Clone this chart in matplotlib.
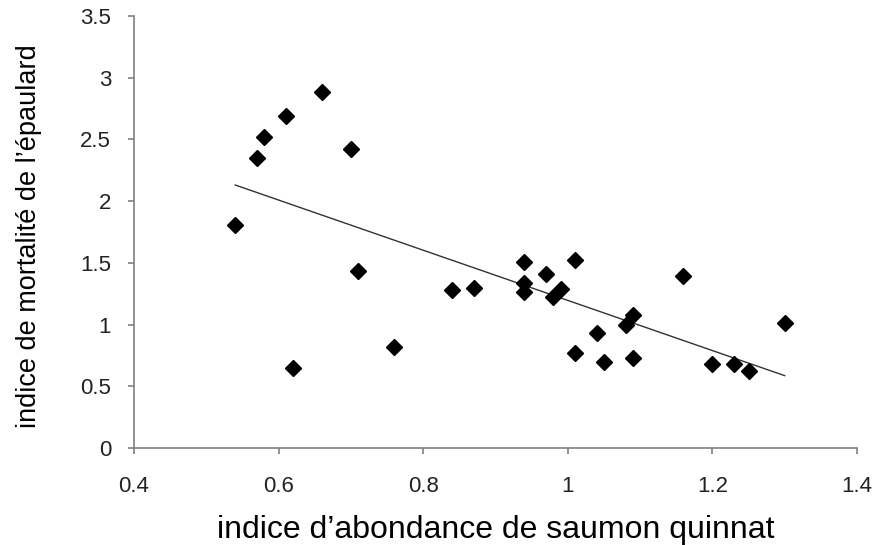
import numpy as np
import matplotlib
matplotlib.use("Agg")
import matplotlib.pyplot as plt

plt.rcParams['font.family'] = ['Liberation Sans', 'DejaVu Sans']

## indice d'abondance de saumon quinnat
abondance = [0.54, 0.57, 0.58, 0.61, 0.66, 0.70, 0.71, 0.62, 0.76, 0.84,
             0.87, 0.94, 0.94, 0.94, 0.97, 0.98, 0.99, 1.01, 1.01, 1.04,
             1.05, 1.08, 1.09, 1.09, 1.16, 1.20, 1.23, 1.25, 1.30]
## indice de mortalite de l'epaulard
mortalite = [1.81, 2.35, 2.52, 2.69, 2.88, 2.42, 1.43, 0.65, 0.82, 1.28,
             1.30, 1.51, 1.34, 1.26, 1.41, 1.22, 1.29, 1.52, 0.77, 0.93,
             0.70, 1.00, 1.08, 0.73, 1.39, 0.68, 0.68, 0.62, 1.01]

xticks = [0.4, 0.6, 0.8, 1.0, 1.2, 1.4]
xticklabels = ['0.4', '0.6', '0.8', '1', '1.2', '1.4']
yticks = [0, 0.5, 1, 1.5, 2, 2.5, 3, 3.5]
yticklabels = ['0', '0.5', '1', '1.5', '2', '2.5', '3', '3.5']

fig = plt.figure(figsize=(8.76, 5.45), dpi=100)
ax = fig.add_axes([0.153, 0.178, 0.8253, 0.7927])

ax.plot(abondance, mortalite, linestyle='none', marker='D', markersize=8,
        color='black', zorder=3)

## linear trend line (least squares)
a, b = np.polyfit(abondance, mortalite, 1)
xl = np.array([min(abondance), max(abondance)])
ax.plot(xl, a*xl + b, color='#333333', linewidth=1.0, zorder=2)

ax.set_xlim(0.4, 1.4)
ax.set_ylim(0, 3.5)
ax.set_xticks(xticks)
ax.set_xticklabels(xticklabels)
ax.set_yticks(yticks)
ax.set_yticklabels(yticklabels)

for s in ['top', 'right']:
    ax.spines[s].set_visible(False)
for s in ['left', 'bottom']:
    ax.spines[s].set_color('#808080')
    ax.spines[s].set_linewidth(1.2)
ax.tick_params(direction='out', length=4.5, width=1.2, color='#808080',
               labelsize=16, labelcolor='#222222')
ax.tick_params(axis='x', pad=16)
ax.tick_params(axis='y', pad=12)

ax.set_xlabel("indice d\u2019abondance de saumon quinnat", fontsize=23)
ax.xaxis.label.set_va('baseline')
ax.xaxis.set_label_coords(0.5, -0.209)
ax.set_ylabel("indice de mortalit\u00e9 de l\u2019\u00e9paulard", fontsize=19.5)
ax.yaxis.label.set_va('baseline')
ax.yaxis.set_label_coords(-0.1355, 0.49)

fig.savefig('out.png', dpi=100)
